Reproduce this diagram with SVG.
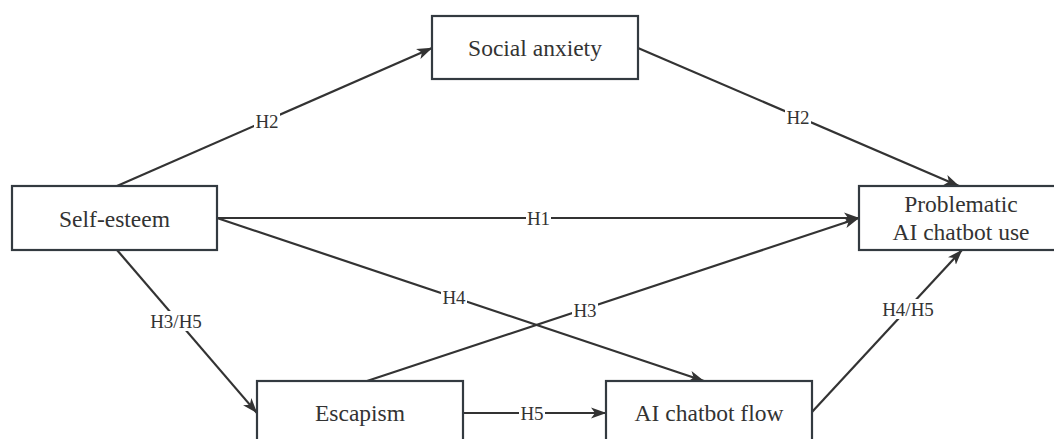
<svg xmlns="http://www.w3.org/2000/svg" width="1054" height="439" viewBox="0 0 1054 439">
  <style>
    .box { fill: #ffffff; stroke: #333a40; stroke-width: 2.2; }
    .node-text { font-size: 23.5px; fill: #333333; text-anchor: middle; }
    .edge { fill: none; stroke: #333333; stroke-width: 2.2; marker-end: url(#arrow); }
    .label-bg { fill: #ffffff; }
    .label { font-size: 19px; fill: #333333; text-anchor: middle; }
  </style>
  <defs>
    <marker id="arrow" markerUnits="userSpaceOnUse" markerWidth="16" markerHeight="12" viewBox="0 0 16 12" refX="15" refY="6" orient="auto">
      <path d="M0,0.5 L15.5,6 L0,11.5 L4,6 Z" fill="#333333"/>
    </marker>
  </defs>
  <rect width="1054" height="439" fill="#ffffff"/>

  <g id="connectors" font-family="Liberation Serif, DejaVu Serif, serif">
    <path class="edge" d="M117,186 L432,48"/>
    <path class="edge" d="M638,48 L959,186"/>
    <path class="edge" d="M217,218 L859,218"/>
    <path class="edge" d="M217,218 L704,381"/>
    <path class="edge" d="M117,250 L257,413"/>
    <path class="edge" d="M367,381 L859,218"/>
    <path class="edge" d="M463,413 L606,413"/>
    <path class="edge" d="M812,412 L962,250"/>

    <g id="edge-labels">
      <rect class="label-bg" x="254" y="111" width="26" height="20"/>
      <text class="label" x="267" y="127.5">H2</text>
      <rect class="label-bg" x="785" y="107" width="26" height="20"/>
      <text class="label" x="798" y="123.5">H2</text>
      <rect class="label-bg" x="526" y="208" width="25" height="20"/>
      <text class="label" x="538.5" y="224.5">H1</text>
      <rect class="label-bg" x="441" y="287" width="26" height="20"/>
      <text class="label" x="454" y="303.5">H4</text>
      <rect class="label-bg" x="149" y="311" width="54" height="20"/>
      <text class="label" x="176" y="327.5">H3/H5</text>
      <rect class="label-bg" x="572" y="300" width="26" height="20"/>
      <text class="label" x="585" y="316.5">H3</text>
      <rect class="label-bg" x="519" y="403" width="26" height="20"/>
      <text class="label" x="532" y="419.5">H5</text>
      <rect class="label-bg" x="881" y="299" width="54" height="20"/>
      <text class="label" x="908" y="315.5">H4/H5</text>
    </g>
  </g>

  <g id="nodes" font-family="Liberation Serif, DejaVu Serif, serif">
    <g id="social-anxiety">
      <rect class="box" x="432" y="16" width="206" height="63"/>
      <text class="node-text" x="535" y="56">Social anxiety</text>
    </g>

    <g id="self-esteem">
      <rect class="box" x="12" y="186" width="205" height="64"/>
      <text class="node-text" x="114.5" y="227">Self-esteem</text>
    </g>

    <g id="problematic-use">
      <rect class="box" x="859" y="186" width="205" height="64"/>
      <text class="node-text" x="961" y="212">Problematic</text>
      <text class="node-text" x="961" y="240">AI chatbot use</text>
    </g>

    <g id="escapism">
      <rect class="box" x="257" y="381" width="206" height="64"/>
      <text class="node-text" x="360" y="421">Escapism</text>
    </g>

    <g id="chatbot-flow">
      <rect class="box" x="606" y="381" width="206" height="64"/>
      <text class="node-text" x="709" y="421">AI chatbot flow</text>
    </g>
  </g>
</svg>
